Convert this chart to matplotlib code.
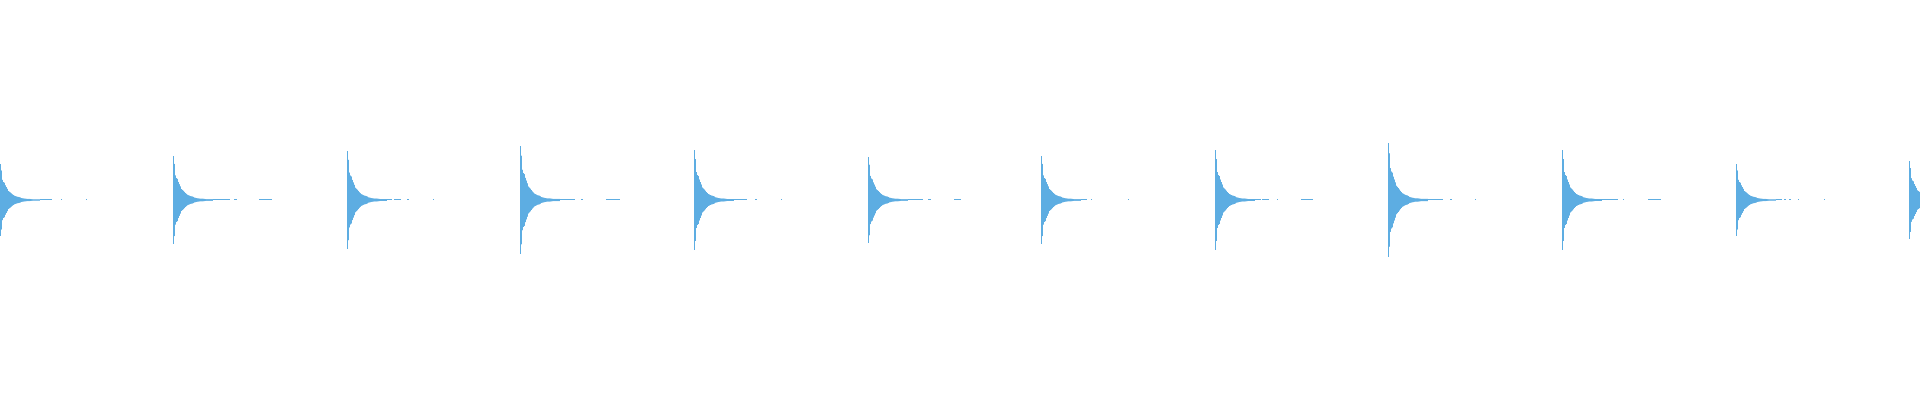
import matplotlib
matplotlib.use("Agg")
import matplotlib.pyplot as plt
import numpy as np

# waveform overview, x in display bins (1920 bins), y normalised to [-1, 1]
n_bins = 1920
onsets = [0, 173, 347, 520, 694, 868, 1041, 1215, 1388, 1562, 1736, 1909]
peaks = [0.18, 0.22, 0.245, 0.27, 0.25, 0.215, 0.22, 0.25, 0.285, 0.25, 0.18, 0.195]

# decay envelope of one hit, relative to its peak, one value per bin
decay = [1.0, 0.82, 0.56, 0.5, 0.48, 0.41, 0.36, 0.31, 0.25, 0.23,
         0.21, 0.185, 0.16, 0.14, 0.12, 0.11, 0.10, 0.09, 0.085, 0.08,
         0.07, 0.055, 0.05, 0.045, 0.04, 0.037, 0.033, 0.03, 0.03, 0.03,
         0.028, 0.025, 0.022, 0.02, 0.02, 0.02, 0.02, 0.02, 0.02, 0.02]

# low-level tail after each hit: (start bin offset, end bin offset)
tails = [
    [(40, 52), (61, 62), (86, 87)],
    [(40, 57), (61, 64), (86, 99)],
    [(40, 45), (47, 54), (60, 62), (86, 87)],
    [(40, 55), (61, 63), (86, 100)],
    [(40, 53), (61, 63), (87, 88)],
    [(40, 55), (60, 63), (86, 93)],
    [(40, 46), (50, 51), (87, 88)],
    [(40, 46), (47, 54), (62, 63), (86, 98)],
    [(40, 55), (62, 64), (87, 88)],
    [(40, 56), (61, 62), (86, 99)],
    [(40, 46), (48, 50), (53, 55), (62, 63), (88, 89)],
    [],
]
tail_level = 0.005  # one pixel row above the centre
color = "#5DADE2"

half = np.zeros(n_bins)
tail = np.zeros(n_bins)
for onset, peak, segs in zip(onsets, peaks, tails):
    for k, rel in enumerate(decay):
        i = onset + k
        if 0 <= i < n_bins:
            half[i] = max(half[i], rel * peak)
    for a, b in segs:
        for i in range(onset + a, onset + b):
            if 0 <= i < n_bins:
                tail[i] = tail_level

fig = plt.figure(figsize=(19.2, 4), dpi=100)
ax = fig.add_axes([0, 0, 1, 1])
edges = np.arange(n_bins + 1)
h = np.append(half, half[-1])
t = np.append(tail, tail[-1])
ax.fill_between(edges, -h, h, step="post", color=color, linewidth=0)
ax.fill_between(edges, 0, t, step="post", color=color, linewidth=0)
ax.set_xlim(0, n_bins)
ax.set_ylim(-1, 1)
ax.axis("off")
fig.savefig("out.png", dpi=100, facecolor="white")
plt.close(fig)
